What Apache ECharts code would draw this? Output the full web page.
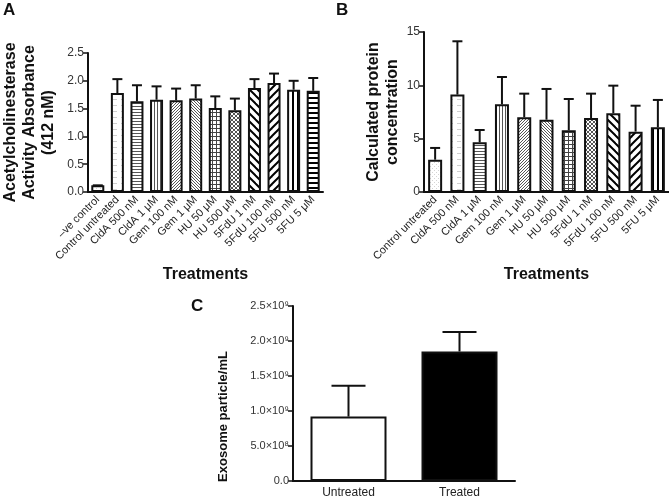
<!DOCTYPE html>
<html>
<head>
<meta charset="utf-8">
<script src="https://cdn.jsdelivr.net/npm/echarts@6/dist/echarts.min.js"></script>
<style>
  html, body { margin: 0; padding: 0; background: #fff; }
  #chart { width: 669px; height: 499px; }
</style>
</head>
<body>
<div id="chart"></div>
<script>
// Panel A - acetylcholinesterase activity
const catsA = ['–ve control', 'Control untreated', 'CldA 500 nM', 'CldA 1 μM', 'Gem 100 nM', 'Gem 1 μM',
  'HU 50 μM', 'HU 500 μM', '5FdU 1 nM', '5FdU 100 nM', '5FU 500 nM', '5FU 5 μM']
const meansA = [0.12, 1.78, 1.63, 1.66, 1.65, 1.68, 1.51, 1.47, 1.87, 1.96, 1.84, 1.82]
const sdA = [0, 0.25, 0.29, 0.24, 0.21, 0.24, 0.21, 0.21, 0.16, 0.17, 0.16, 0.23]

// Panel B - protein concentration
const catsB = ['Control untreated', 'CldA 500 nM', 'CldA 1 μM', 'Gem 100 nM', 'Gem 1 μM', 'HU 50 μM',
  'HU 500 μM', '5FdU 1 nM', '5FdU 100 nM', '5FU 500 nM', '5FU 5 μM']
const meansB = [3.03, 9.13, 4.66, 8.22, 7.0, 6.78, 5.78, 6.94, 7.38, 5.66, 6.06]
const sdB = [1.1, 5.0, 1.15, 2.56, 2.22, 2.88, 2.94, 2.28, 2.59, 2.43, 2.57]

// Panel C - exosome counts
const catsC = ['Untreated', 'Treated']
const meansC = [0.92e9, 1.85e9]
const sdC = [0.44e9, 0.28e9]
const ticksC = ['0.0', '5.0×10⁸', '1.0×10⁹', '1.5×10⁹', '2.0×10⁹', '2.5×10⁹']

const FONT = "'Liberation Sans', Arial, sans-serif"

// small canvas tiles used as hatch fills
function makePattern(kind) {
  const c = document.createElement('canvas')
  const ctx = c.getContext('2d')
  const set = (w, h) => { c.width = w; c.height = h; ctx.fillStyle = '#fff'; ctx.fillRect(0, 0, w, h) }
  switch (kind) {
    case 'dots':
      set(4, 4); ctx.fillStyle = '#d4d4d4'; ctx.fillRect(0, 0, 1, 1); ctx.fillRect(2, 2, 1, 1); break
    case 'dash':
      set(8, 6); ctx.fillStyle = '#cfcfcf'; ctx.fillRect(1, 3, 4, 1); break
    case 'hline':
      set(3, 3); ctx.fillStyle = '#555'; ctx.fillRect(0, 1, 3, 1); break
    case 'vline':
      set(3, 3); ctx.fillStyle = '#555'; ctx.fillRect(1, 0, 1, 3); break
    case 'fine1':
      set(3, 3); ctx.fillStyle = '#555'; ctx.fillRect(0, 2, 1, 1); ctx.fillRect(1, 1, 1, 1); ctx.fillRect(2, 0, 1, 1); break
    case 'fine2':
      set(3, 3); ctx.fillStyle = '#555'; ctx.fillRect(0, 0, 1, 1); ctx.fillRect(1, 1, 1, 1); ctx.fillRect(2, 2, 1, 1); break
    case 'grid':
      set(4, 4); ctx.fillStyle = '#444'; ctx.fillRect(0, 0, 4, 1); ctx.fillRect(0, 0, 1, 4); break
    case 'diamond':
      set(4, 4); ctx.fillStyle = '#555'
      for (let i = 0; i < 4; i++) { ctx.fillRect(i, i, 1, 1); ctx.fillRect(3 - i, i, 1, 1) }
      break
    case 'bslash':
    case 'fslash': {
      set(8, 8); ctx.strokeStyle = '#000'; ctx.lineWidth = 2
      for (let k = -8; k <= 8; k += 8) {
        ctx.beginPath()
        if (kind === 'bslash') { ctx.moveTo(k - 1, -1); ctx.lineTo(k + 9, 9) }
        else { ctx.moveTo(k - 1, 9); ctx.lineTo(k + 9, -1) }
        ctx.stroke()
      }
      break
    }
    case 'vthick':
      set(5, 5); ctx.fillStyle = '#000'; ctx.fillRect(2, 0, 2, 5); break
    case 'hthick':
      set(5, 5); ctx.fillStyle = '#000'; ctx.fillRect(0, 2, 5, 2); break
    case 'black':
      set(2, 2); ctx.fillStyle = '#000'; ctx.fillRect(0, 0, 2, 2); break
    default:
      set(2, 2)
  }
  return { image: c, repeat: 'repeat' }
}

const patternKinds = ['dots', 'dash', 'hline', 'vline', 'fine1', 'fine2', 'grid', 'diamond', 'bslash', 'fslash', 'vthick', 'hthick']
const patterns = patternKinds.map(makePattern)

function barData(values, fills) {
  return values.map((v, i) => ({ value: v, itemStyle: { color: fills[i] } }))
}

function errSeries(idx, means, sds, capHalf) {
  return {
    type: 'custom',
    xAxisIndex: idx,
    yAxisIndex: idx,
    z: 3,
    data: means.map((m, i) => [i, m, m + sds[i]]),
    renderItem(params, api) {
      const lo = api.coord([api.value(0), api.value(1)])
      const hi = api.coord([api.value(0), api.value(2)])
      const st = { stroke: '#111', lineWidth: 2 }
      return {
        type: 'group',
        children: [
          { type: 'line', shape: { x1: lo[0], y1: lo[1], x2: hi[0], y2: hi[1] }, style: st },
          { type: 'line', shape: { x1: hi[0] - capHalf, y1: hi[1], x2: hi[0] + capHalf, y2: hi[1] }, style: st }
        ]
      }
    }
  }
}

const axisLine = { lineStyle: { color: '#111', width: 2 } }
const axisTick = { lineStyle: { color: '#111', width: 1.5 }, length: 5 }
const titleStyle = { fontFamily: FONT, fontSize: 16, fontWeight: 'bold', color: '#111', lineHeight: 19 }

function catAxis(idx, cats, rotate, name, size) {
  return {
    type: 'category', gridIndex: idx, data: cats,
    axisLine, axisTick: Object.assign({ alignWithLabel: true }, axisTick),
    axisLabel: { rotate, interval: 0, margin: 6, fontFamily: FONT, fontSize: size, color: '#222' },
    name, nameLocation: 'middle', nameGap: 72, nameTextStyle: titleStyle
  }
}

const chart = echarts.init(document.getElementById('chart'))

chart.setOption({
  animation: false,
  textStyle: { fontFamily: FONT },
  grid: [
    { left: 88, top: 53, width: 235, height: 139 },
    { left: 424, top: 32, width: 245, height: 160 },
    { left: 293, top: 306, width: 222, height: 176 }
  ],
  xAxis: [
    catAxis(0, catsA, 45, 'Treatments', 11),
    catAxis(1, catsB, 45, 'Treatments', 11),
    catAxis(2, catsC, 0, '', 12)
  ],
  yAxis: [
    {
      type: 'value', gridIndex: 0, min: 0, max: 2.5, interval: 0.5,
      axisLine: Object.assign({ show: true }, axisLine), axisTick: Object.assign({ show: true }, axisTick),
      splitLine: { show: false },
      axisLabel: { formatter: v => v.toFixed(1), fontFamily: FONT, fontSize: 12, color: '#333', margin: 4 },
      name: 'Acetylcholinesterase\nActivity Absorbance\n(412 nM)', nameLocation: 'middle', nameRotate: 90,
      nameGap: 30, nameTextStyle: titleStyle
    },
    {
      type: 'value', gridIndex: 1, min: 0, max: 15, interval: 5,
      axisLine: Object.assign({ show: true }, axisLine), axisTick: Object.assign({ show: true }, axisTick),
      splitLine: { show: false },
      axisLabel: { fontFamily: FONT, fontSize: 12, color: '#333', margin: 4 },
      name: 'Calculated protein\nconcentration', nameLocation: 'middle', nameRotate: 90,
      nameGap: 22, nameTextStyle: titleStyle
    },
    {
      type: 'value', gridIndex: 2, min: 0, max: 2.5e9, interval: 5e8,
      axisLine: Object.assign({ show: true }, axisLine), axisTick: Object.assign({ show: true }, axisTick),
      splitLine: { show: false },
      axisLabel: { formatter: v => ticksC[Math.round(v / 5e8)], fontFamily: FONT, fontSize: 11, color: '#333', margin: 4 },
      name: 'Exosome particle/mL', nameLocation: 'middle', nameRotate: 90,
      nameGap: 60, nameTextStyle: Object.assign({}, titleStyle, { fontSize: 13, padding: [0, 46, 0, 0] })
    }
  ],
  graphic: [
    { type: 'text', left: 3, top: 2, style: { text: 'A', font: 'bold 17px ' + FONT, fill: '#111' } },
    { type: 'text', left: 336, top: 2, style: { text: 'B', font: 'bold 17px ' + FONT, fill: '#111' } },
    { type: 'text', left: 191, top: 298, style: { text: 'C', font: 'bold 17px ' + FONT, fill: '#111' } }
  ],
  series: [
    {
      type: 'bar', xAxisIndex: 0, yAxisIndex: 0, barWidth: 13,
      itemStyle: { borderColor: '#111', borderWidth: 2 },
      data: barData(meansA, patterns)
    },
    errSeries(0, meansA, sdA, 5),
    {
      type: 'bar', xAxisIndex: 1, yAxisIndex: 1, barWidth: 14,
      itemStyle: { borderColor: '#111', borderWidth: 2 },
      data: barData(meansB, patterns)
    },
    errSeries(1, meansB, sdB, 5),
    {
      type: 'bar', xAxisIndex: 2, yAxisIndex: 2, barWidth: 76,
      itemStyle: { borderColor: '#111', borderWidth: 2 },
      data: barData(meansC, [makePattern('white'), makePattern('black')])
    },
    errSeries(2, meansC, sdC, 17)
  ]
})
</script>
</body>
</html>
